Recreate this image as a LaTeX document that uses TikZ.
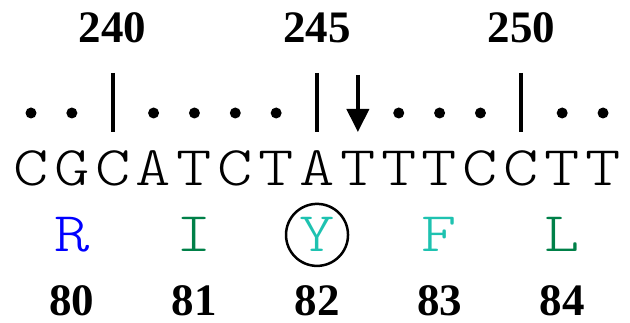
\documentclass[tikz,border=0pt]{standalone}
\usepackage{fontspec}
\setmainfont{Liberation Serif}
\newfontfamily\seqfont[FakeStretch=1.2]{Latin Modern Mono Light}
\usetikzlibrary{positioning,arrows.meta}
\definecolor{aablue}{RGB}{0,0,255}
\definecolor{aagreen}{RGB}{0,128,72}
\definecolor{aateal}{RGB}{30,194,176}

\begin{document}
\begin{tikzpicture}[x=1pt,y=-1pt]
  % Settings
  \tikzset{
    txt/.style={inner sep=0pt, outer sep=0pt, anchor=base},
    nt/.style={txt, font=\seqfont\fontsize{56}{56}\selectfont},
    aa/.style={nt},
    num/.style={txt, font=\fontsize{45}{45}\selectfont\bfseries},
    dot/.style={circle, fill, inner sep=0pt, minimum size=11pt},
    tick/.style={line width=4pt},
    hit/.style={draw, circle, line width=2.5pt, minimum size=62pt, inner sep=0pt},
  }
  \useasboundingbox (0,0) rectangle (630,323);
  % Sequence
  \foreach \c [count=\i from 0] in {C,G,C,A,T,C,T,A,T,T,T,C,C,T,T} {\node[nt] (n\i) at (31+40.86*\i,186) {\c};}
  % Dots
  \foreach \i in {0,1,3,4,5,6,9,10,11,13,14} {\node[dot] (d\i) at (31+40.86*\i,113) {};}
  % Ticks and positions
  \foreach \i/\n in {2/240,7/245,12/250} {
    \node[num] (p\n) at (31+40.86*\i,43) {\n};
    \coordinate (t\n) at (31+40.86*\i,73);
    \coordinate (b\n) at (31+40.86*\i,132);
    \draw[tick] (t\n) -- (b\n);
  }
  % Cut site
  \coordinate (cut) at (31+40.86*8,75);
  \coordinate (cutend) at (31+40.86*8,132);
  \draw[tick, -{Triangle[width=22pt,length=23pt]}] (cut) -- (cutend);
  % Amino acids
  \foreach \a/\col/\n [count=\k from 0] in {R/aablue/80,I/aagreen/81,Y/aateal/82,F/aateal/83,L/aagreen/84} {
    \node[aa, text=\col] (aa\n) at (31+40.86*1+122.58*\k,252) {\a};
    \node[num] (r\n) at (31+40.86*1+122.58*\k,316) {\n};
  }
  \node[hit] (mut) at (aa82.center) {};
\end{tikzpicture}
\end{document}
